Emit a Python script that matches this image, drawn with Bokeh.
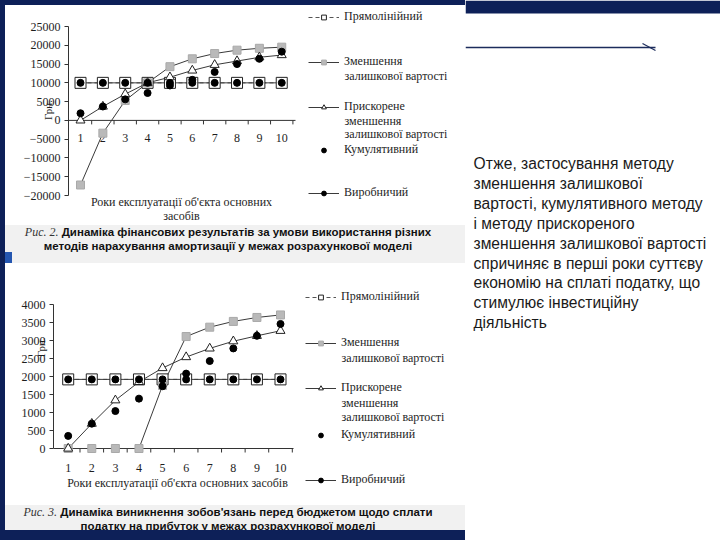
from bokeh.plotting import figure
from bokeh.layouts import column, row
from bokeh.models import (Range1d, Legend, LegendItem, FixedTicker, Spacer,
                          SingleIntervalTicker, Div)
from bokeh.embed import file_html
from bokeh.resources import INLINE
from bokeh.core.properties import value

# ---------------- data ----------------
years = [1, 2, 3, 4, 5, 6, 7, 8, 9, 10]
year_labels = ["1", "2", "3", "4", "5", "6", "7", "8", "9", "10"]

series_labels = [
    "Прямолінійний",
    "Зменшення\nзалишкової вартості",
    "Прискорене\nзменшення\nзалишкової вартості",
    "Кумулятивний",
    "Виробничий",
]

# Fig. 2 - financial results, UAH
fin_ticks = [-20000, -15000, -10000, -5000, 0, 5000, 10000, 15000, 20000, 25000]
fin_straight = [10000, 10000, 10000, 10000, 10000, 10000, 10000, 10000, 10000, 10000]
fin_declining = [-17200, -3400, 5300, 10000, 14300, 16400, 17800, 18700, 19200, 19500]
fin_accel = [0, 3700, 7000, 10000, 11500, 13300, 14800, 15800, 16800, 17400]
fin_cumul = [1900, 3700, 5600, 7300, 9300, 10800, 12900, 15000, 16400, 18300]
fin_prod = [10000, 10000, 10000, 10000, 10000, 10000, 10000, 10000, 10000, 10000]

# Fig. 3 - profit tax liabilities, UAH
tax_ticks = [0, 500, 1000, 1500, 2000, 2500, 3000, 3500, 4000]
tax_straight = [1920, 1920, 1920, 1920, 1920, 1920, 1920, 1920, 1920, 1920]
tax_declining = [0, 0, 0, 0, 1750, 3110, 3370, 3530, 3640, 3710]
tax_accel = [0, 690, 1340, 1850, 2235, 2540, 2780, 2980, 3130, 3270]
tax_cumul = [350, 690, 1040, 1385, 1730, 2080, 2430, 2780, 3130, 3460]
tax_prod = [1920, 1920, 1920, 1920, 1920, 1920, 1920, 1920, 1920, 1920]

x_title = "Роки експлуатації об'єкта основних засобів"
x_title_wrapped = "Роки експлуатації об'єкта основних\nзасобів"
y_title = "Грн."

cap1_num = "Рис. 2."
cap1_l1 = "Динаміка фінансових результатів за умови використання різних"
cap1_l2 = "методів нарахування амортизації у межах розрахункової моделі"
cap2_num = "Рис. 3."
cap2_l1 = "Динаміка виникнення зобов'язань перед бюджетом щодо сплати"
cap2_l2 = "податку на прибуток у межах розрахункової моделі"

note_lines = [
    "Отже, застосування методу",
    "зменшення залишкової",
    "вартості, кумулятивного методу",
    "і методу прискореного",
    "зменшення залишкової вартості",
    "спричиняє в перші роки суттєву",
    "економію на сплаті податку, що",
    "стимулює інвестиційну",
    "діяльність",
]

# ---------------- style ----------------
NAVY = "#0d2058"
SERIF = "Liberation Serif"
SANS = "Liberation Sans"
INK = "#1e1e1e"
LINE = "#3a3a3a"
AX = "#333333"
LEFT_W = 460
CAP_BG = "#f1f1f1"
NBSP = "\u00a0"


class Geo:
    """pixel <-> data mapping of one chart (pixels measured in the left column)."""

    def __init__(self, h, ox, left, top, bottom, x1_px, px_per_x, y0_px, px_per_y):
        self.h, self.ox, self.left, self.top, self.bottom = h, ox, left, top, bottom
        self.x1_px, self.px_per_x, self.y0_px, self.px_per_y = x1_px, px_per_x, y0_px, px_per_y

    def dx(self, px):
        return 1 + (px - self.x1_px) / self.px_per_x

    def dy(self, py):
        return (self.y0_px - py) / self.px_per_y

    def uy(self, py):
        return py / self.px_per_y

    def frame_bottom(self):
        return self.h - self.bottom


def draw_series(p, s):
    straight, declining, accel, cumul, prod = s
    l0 = p.line(years, straight, line_color="#555555", line_width=1, line_dash="4 3")
    l4 = p.line(years, prod, line_color=LINE, line_width=1)
    l1 = p.line(years, declining, line_color=LINE, line_width=1)
    l2 = p.line(years, accel, line_color=LINE, line_width=1)
    m0 = p.scatter(years, straight, marker="square", size=11, fill_color="white",
                   line_color="#222222", line_width=1)
    m1 = p.scatter(years, declining, marker="square", size=8, fill_color="#b9b9b9",
                   line_color="#a9a9a9", line_width=1)
    m2 = p.scatter(years, accel, marker="triangle", size=9, fill_color="white",
                   line_color="#222222", line_width=1)
    m3 = p.scatter(years, cumul, marker="circle", size=7, fill_color="black", line_color="black")
    m4 = p.scatter(years, prod, marker="circle", size=7, fill_color="black", line_color="black")
    return [[l0, m0], [l1, m1], [l2, m2], [m3], [l4, m4]]


def add_legend(p, g, groups, glyph_left, centers, line_step):
    gw, so = 31, 5
    for lab, rs, c in zip(series_labels, groups, centers):
        lines = lab.split("\n")
        leg = Legend(items=[LegendItem(label=lines[0], renderers=rs)],
                     location=(glyph_left - g.left, g.frame_bottom() - (c + 7.2)),
                     padding=0, margin=0, spacing=0, border_line_alpha=0, background_fill_alpha=0,
                     label_text_font=SERIF, label_text_font_size="12px", label_text_color=INK,
                     label_standoff=so, glyph_width=gw, glyph_height=12, label_height=12)
        p.add_layout(leg)
        if len(lines) > 1:
            p.text(x=g.dx(glyph_left + gw + so),
                   y=[g.dy(c + line_step * (k + 1)) for k in range(len(lines) - 1)],
                   text=lines[1:], text_baseline="middle", text_align="left",
                   text_font=value(SERIF), text_font_size="12px", text_color=INK)


def style_yaxis(p, ticks, standoff, lead):
    ax = p.yaxis[0]
    ax.ticker = FixedTicker(ticks=ticks)
    ax.bounds = (ticks[0], ticks[-1])
    ax.major_tick_out = 4
    ax.major_tick_in = 0
    ax.minor_tick_line_color = None
    ax.axis_line_color = AX
    ax.major_tick_line_color = AX
    ax.major_label_standoff = 4
    ax.major_label_text_font = SERIF
    ax.major_label_text_font_size = "12px"
    ax.major_label_text_color = INK
    ax.axis_label = NBSP * lead + y_title
    ax.axis_label_text_font = SERIF
    ax.axis_label_text_font_size = "11px"
    ax.axis_label_text_font_style = "normal"
    ax.axis_label_text_color = INK
    ax.axis_label_standoff = standoff


def base_fig(g):
    p = figure(width=LEFT_W - g.ox, height=g.h,
               x_range=Range1d(g.dx(g.left), g.dx(LEFT_W)),
               y_range=Range1d(g.dy(g.h - g.bottom), g.dy(g.top)),
               toolbar_location=None, output_backend="svg",
               min_border_left=g.left - g.ox, min_border_right=0,
               min_border_top=g.top, min_border_bottom=g.bottom, x_axis_type=None,
               margin=(0, 0, 0, g.ox))
    p.grid.visible = False
    p.outline_line_color = None
    p.background_fill_color = "white"
    p.border_fill_color = "white"
    return p


def x_axis(p, g, end_px, label_dy):
    p.segment(x0=[g.dx(g.left)], y0=[0], x1=[g.dx(end_px)], y1=[0], line_color=AX, line_width=1)
    bounds = [y + 0.5 for y in years]
    p.segment(x0=bounds, y0=0, x1=bounds, y1=-g.uy(4), line_color=AX, line_width=1)
    p.text(x=years, y=0, text=year_labels, y_offset=label_dy, text_align="center",
           text_baseline="middle", text_font=value(SERIF), text_font_size="12px", text_color=INK)


# ---------------- chart 1 ----------------
g1 = Geo(h=220, ox=15, left=63, top=2, bottom=2, x1_px=75, px_per_x=22.36,
         y0_px=114.9, px_per_y=169 / 45000)
p1 = base_fig(g1)
style_yaxis(p1, fin_ticks, -33, 4)
x_axis(p1, g1, 290, 18)
p1.text(x=[g1.dx(176)], y=[-20000], text=[x_title_wrapped], y_offset=-1,
        text_align="center", text_baseline="top", text_line_height=1.05,
        text_font=value(SERIF), text_font_size="12px", text_color=INK)
s1 = draw_series(p1, [fin_straight, fin_declining, fin_accel, fin_cumul, fin_prod])
add_legend(p1, g1, s1, 303, [12, 57, 102, 145, 188], 13)

# ---------------- chart 2 ----------------
g2 = Geo(h=242, ox=0, left=48, top=2, bottom=2, x1_px=62.7, px_per_x=23.59,
         y0_px=185, px_per_y=144 / 4000)
p2 = base_fig(g2)
style_yaxis(p2, tax_ticks, -28, 27)
x_axis(p2, g2, 288, 19)
p2.text(x=[g2.dx(172)], y=[0], text=[x_title], y_offset=34,
        text_align="center", text_baseline="middle",
        text_font=value(SERIF), text_font_size="12px", text_color=INK)
s2 = draw_series(p2, [tax_straight, tax_declining, tax_accel, tax_cumul, tax_prod])
add_legend(p2, g2, s2, 300, [34, 80, 125, 172, 217], 14.3)


# ---------------- captions ----------------
def caption(h, num, l1, l2):
    html = (
        '<div style="width:446px;text-align:center;line-height:14px;white-space:nowrap;'
        'font-family:\'Liberation Sans\';font-weight:bold;font-size:11.5px;color:#111;">'
        '<span style="font-family:\'Liberation Serif\';font-style:italic;font-weight:normal;'
        'font-size:12px;color:#333;">' + num + '</span> ' + l1 + '<br>' + l2 + '</div>'
    )
    return Div(text=html, width=LEFT_W, height=h,
               styles={"background-color": CAP_BG, "margin": "0", "padding": "0"})


cap1 = caption(27, cap1_num, cap1_l1, cap1_l2)
cap2 = caption(25, cap2_num, cap2_l1, cap2_l2)

gap = row(Spacer(width=7, height=11, styles={"background-color": "#2456b0"}),
          Spacer(width=LEFT_W - 7, height=11, styles={"background-color": CAP_BG}))

left_col = column(
    Spacer(width=LEFT_W, height=5, styles={"background-color": NAVY}),
    p1, cap1, gap, p2, cap2,
    Spacer(width=LEFT_W, height=10, styles={"background-color": NAVY}),
    styles={"background-color": "white"},
)

# ---------------- right side: note ----------------
RW, RH = 255, 540
rp = figure(width=RW, height=RH, x_range=Range1d(0, RW), y_range=Range1d(RH, 0),
            toolbar_location=None, output_backend="svg", min_border=0,
            x_axis_type=None, y_axis_type=None)
rp.outline_line_color = None
rp.background_fill_color = "white"
rp.border_fill_color = "white"
rp.xgrid.ticker = SingleIntervalTicker(interval=13)
rp.ygrid.ticker = SingleIntervalTicker(interval=13)
rp.grid.grid_line_color = "#e3e8ee"
rp.quad(left=0, right=RW, top=0, bottom=13, fill_color=NAVY, line_color=None)
rp.segment(x0=0, y0=47, x1=190, y1=47, line_color="#1c2c5c", line_width=1.5)
rp.segment(x0=177, y0=43, x1=190, y1=50, line_color="#1c2c5c", line_width=1.2)
rp.quad(left=5, right=RW, top=150, bottom=335, fill_color="white", line_color=None)
rp.text(x=8, y=[163 + 19.9 * i for i in range(len(note_lines))], text=note_lines,
        text_baseline="middle", text_font=value(SANS), text_font_size="15.6px", text_color="#1a1a1a")

root = row(
    Spacer(width=5, height=RH, styles={"background-color": NAVY}),
    left_col, rp,
)

open("out.html", "w").write(file_html(root, INLINE))
